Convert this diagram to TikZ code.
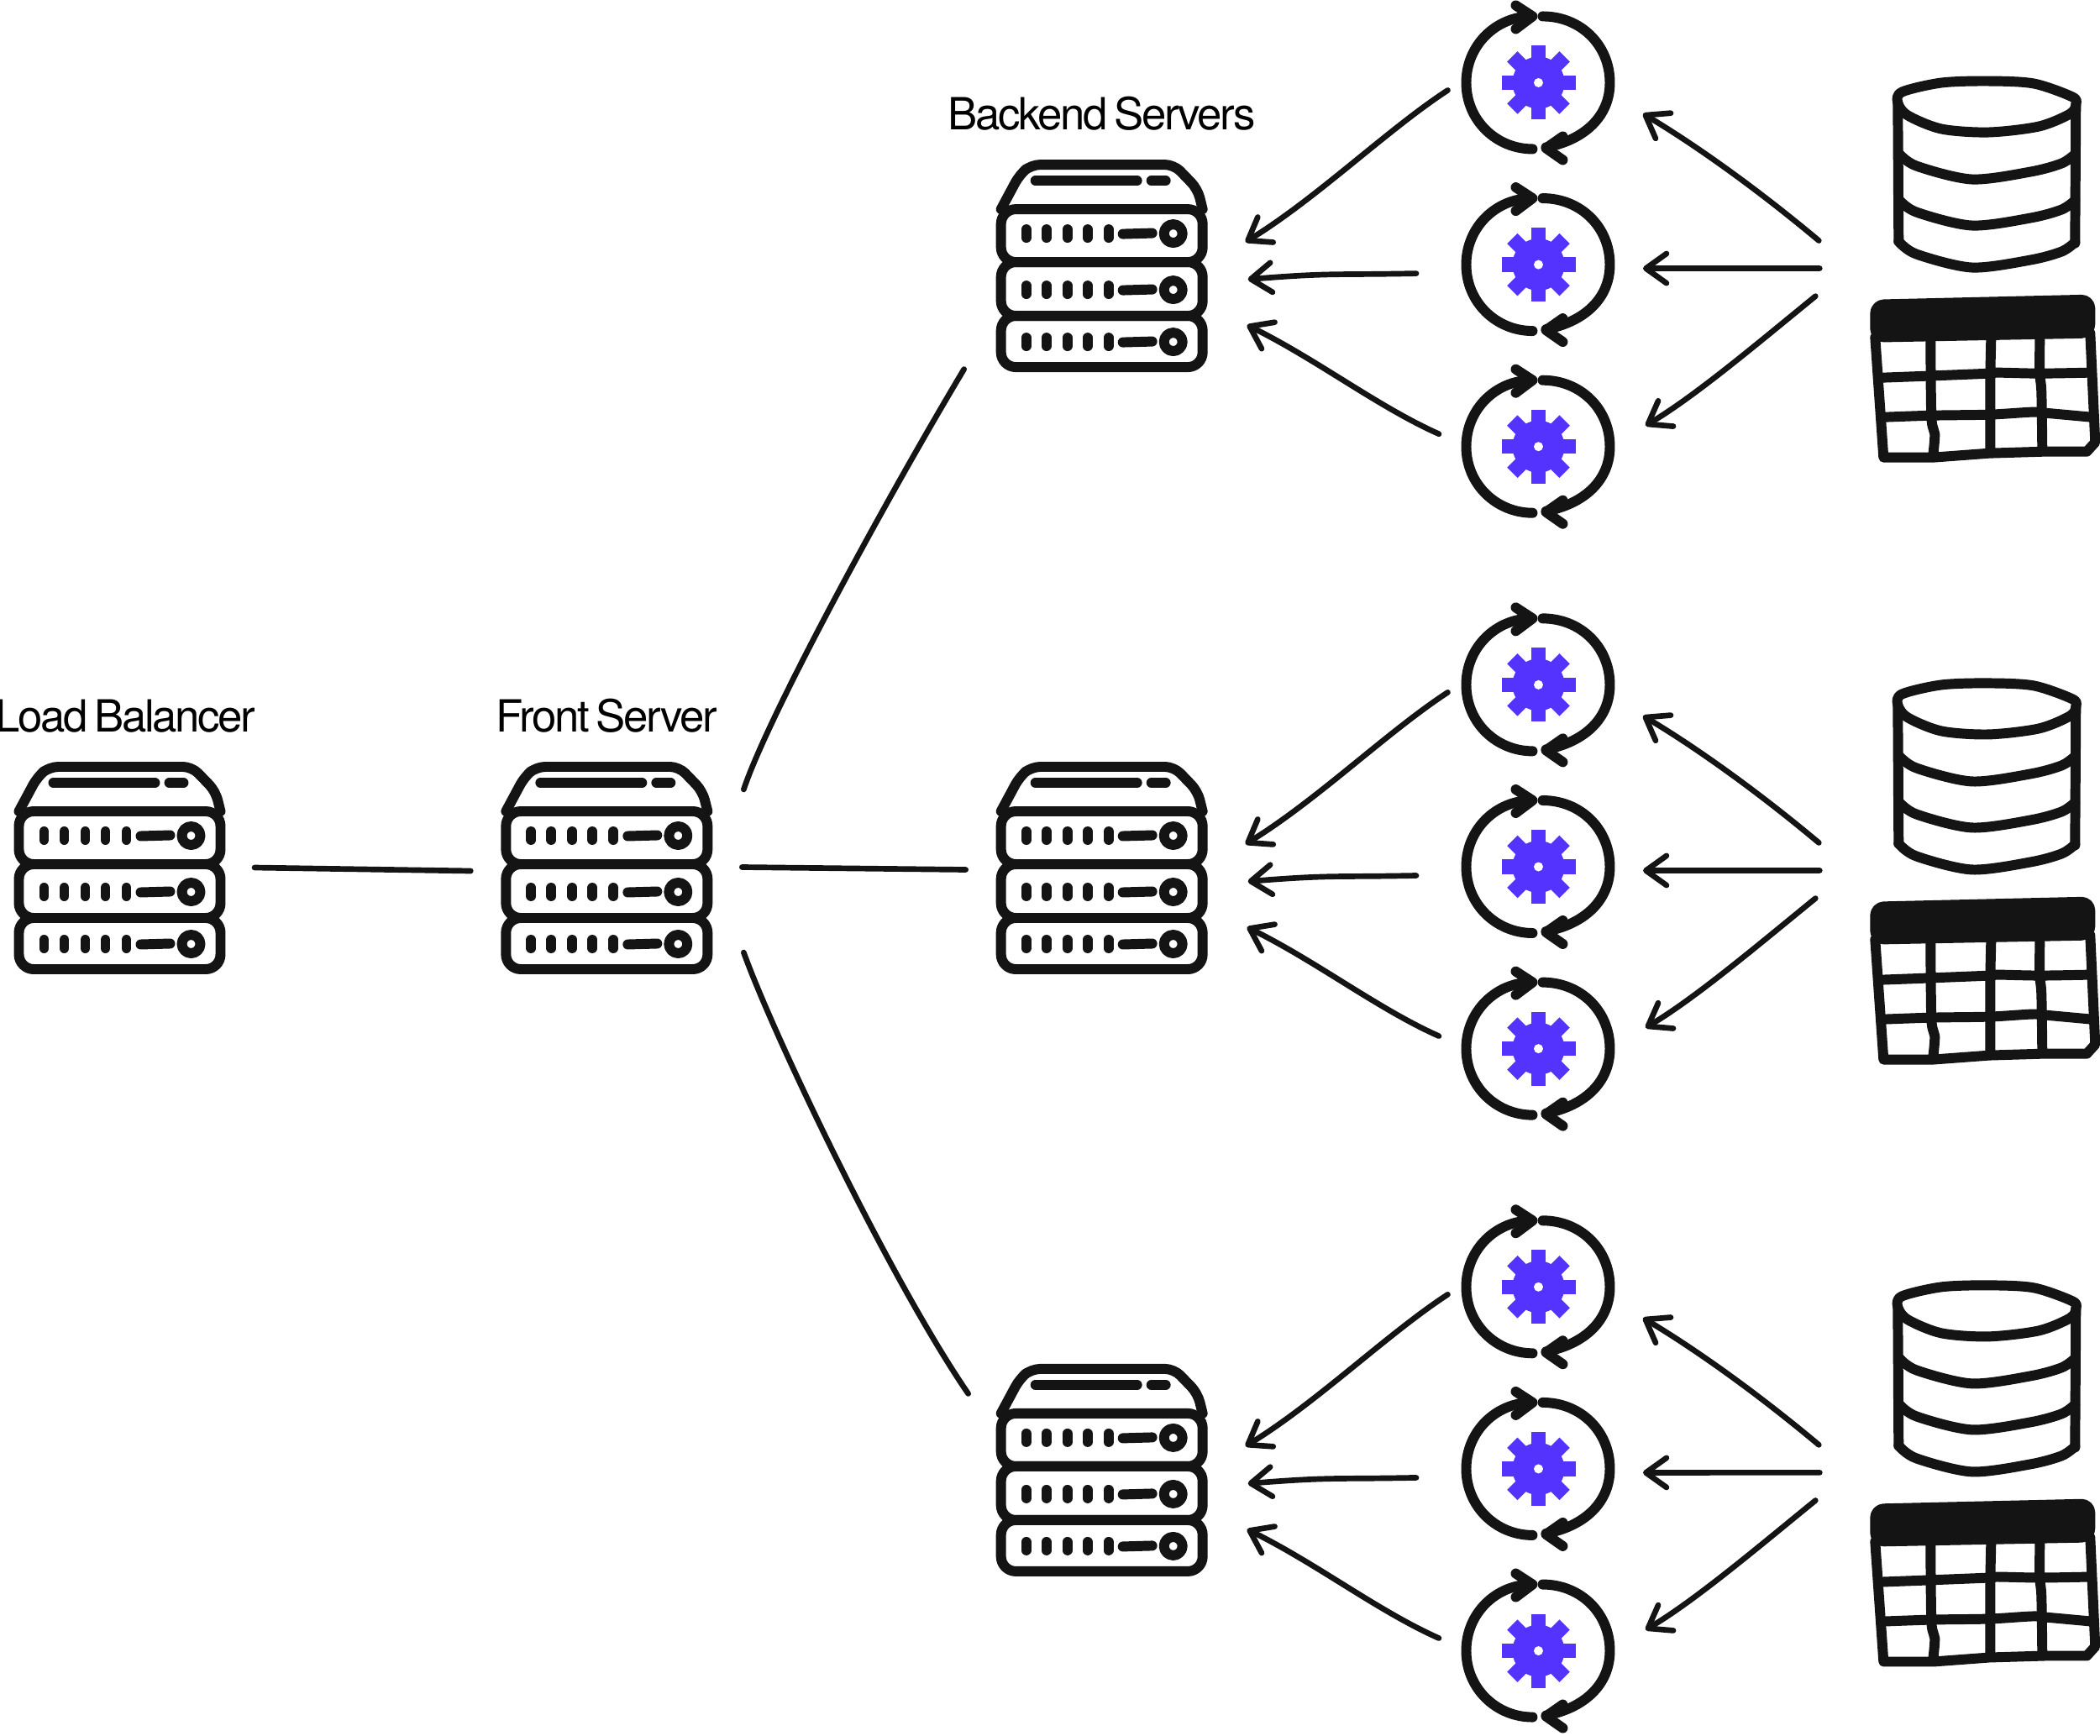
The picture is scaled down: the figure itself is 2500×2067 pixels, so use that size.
\documentclass[tikz,border=0pt]{standalone}
\usepackage{fontspec}
\setmainfont[LetterSpace=-4.5, WordSpace=0.6]{TeX Gyre Heros}
\usepackage{xcolor}
\usepackage{tikz}
\usetikzlibrary{positioning, calc, arrows.meta}
\definecolor{inkblack}{HTML}{141414}
\definecolor{gearblue}{HTML}{5433FF}

\begin{document}
\begin{tikzpicture}[x=0.01cm, y=-0.01cm,
        % Style definitions
        icon/.style={
            draw=inkblack,
            line width=3.4pt,
            line cap=round,
            line join=round
        },
        flow/.style={
            draw=inkblack,
            line width=1.9pt,
            line cap=round
        },
        arrow/.style={
            flow,
            -{Straight Barb[round, length=7pt, width=10pt]}
        },
        srvbox/.style={
            minimum width=2.52cm,
            minimum height=2.53cm,
            inner sep=0pt,
            outer sep=0pt
        },
        gearbox/.style={
            minimum width=1.92cm,
            minimum height=1.92cm,
            inner sep=0pt,
            outer sep=0pt
        },
        title/.style={
            inner sep=0pt,
            text depth=0pt,
            text=black,
            font=\fontsize{15}{15}\selectfont
        },
        server/.pic={
            \draw [icon, rounded corners=3pt] (-120,-67) -- (-98,-108) -- (-84,-120)
                -- (86,-120) -- (114,-91) -- (120,-67);
            \draw [icon] (-79,-101) -- (42,-101);
            \draw [icon] (59,-101) -- (76,-101);
            \foreach \ya/\yb in {-67/-4, -4/60, 60/121}
                \draw [icon, rounded corners=5pt] (-120,\ya) rectangle (120,\yb);
            \foreach \y in {-38, 29, 91} {
                \foreach \x in {-90, -66, -41, -17, 8}
                    \draw [icon] (\x,\y-5) -- (\x,\y+5);
                \draw [icon] (25,\y+0.5) -- (60,\y-0.5);
                \draw [icon] (85,\y) circle [radius=11];
            }
        },
        cogwheel/.pic={
            % Ring of two arrows
            \draw [icon] (-7,79) .. controls (-50,79) and (-86,45) .. (-86,0)
                .. controls (-86,-45) and (-50,-79) .. (-8,-79);
            \draw [icon] (-27,-92) -- (-7,-79) -- (-27,-64);
            \draw [icon] (5,-79) .. controls (50,-79) and (85,-45) .. (85,0)
                .. controls (85,40) and (55,68) .. (9,77);
            \draw [icon] (29,64) -- (9,78) -- (29,92);
            % Gear
            \foreach \a in {0, 45, ..., 315}
                \fill [gearblue, rotate=\a] (-8.7,-44) rectangle (8.7,0);
            \fill [gearblue] (0,0) circle [radius=31];
            \fill [white] (0,0) circle [radius=5.5];
        },
        database/.pic={
            \draw [icon] plot [smooth cycle] coordinates {(-106,-85) (-101,-98) (-54,-109) (2,-111)
                (56,-108) (102,-92) (106,-83) (99,-72) (62,-57) (2,-50) (-54,-54) (-94,-70)};
            \draw [icon] (-106,-85) -- (-105,80);
            \draw [icon] (106,-83) -- (105,82);
            \foreach \b in {0, 55, 105}
                \draw [icon, shift={(0,\b)}] plot [smooth] coordinates {(-105,-25) (-84,-10) (-18,6)
                    (52,-3) (89,-13) (105,-24)};
        },
        datatable/.pic={
            % Header bar
            \draw [icon, fill=inkblack, rounded corners=3pt] (-131,-88) -- (125,-94) -- (125,-54) -- (-131,-49) -- cycle;
            % Outer frame
            \draw [icon] (-131,-49) -- (-121,94) -- (-62,94) -- (5,89) -- (71,87) -- (121,87)
                -- (131,76) -- (125,-54);
            % Grid
            \draw [icon] plot [smooth] coordinates {(-122,-1) (-69,-3) (5,-6) (15,-7) (65,-6) (125,-7)};
            \draw [icon] plot [smooth] coordinates {(-119,46) (-62,44) (5,43) (55,40) (71,41) (126,46)};
            \draw [icon] plot [smooth] coordinates {(-65,-46) (-64,46) (-60,66) (-62,91)};
            \draw [icon] (7,-46) -- (6,-4) -- (6,86);
            \draw [icon] plot [smooth] coordinates {(65,-46) (65,-6) (67,16) (68,84)};
        }
    ]

        \path [use as bounding box] (0,0) rectangle (2500,2067);

        % ==========================================
        % Nodes / Blocks Placement
        % ==========================================
        % Load balancer and front server in the middle row
        \node (lb) at (142.5,1033) [srvbox] {};
        \node (front) [srvbox, right=3.275cm of lb] {};

        % Backend servers, one per row
        \node (srv1) [srvbox, right=3.37cm of front] {};
        \node (srv0) [srvbox, above=4.635cm of srv1] {};
        \node (srv2) [srvbox, below=4.635cm of srv1] {};

        % Titles above the first servers
        \node (lb_label) [title, above=0.345cm of lb, xshift=0.07cm] {Load Balancer};
        \node (front_label) [title, above=0.345cm of front] {Front Server};
        \node (srv_label) [title, above=0.345cm of srv0] {Backend Servers};

        \pic at (lb) {server};
        \pic at (front) {server};

        % ==========================================
        % Connections / Lines
        % ==========================================
        \draw [flow] ([shift={(160.5,0)}]lb.center) -- ([shift={(-162,4)}]front.center);
        \draw [flow] ([shift={(163,-93)}]front.center) .. controls +(30,-90) and +(-87,145) .. ([shift={(-164,123.5)}]srv0.center);
        \draw [flow] ([shift={(161,-0.5)}]front.center) -- ([shift={(-162,2.5)}]srv1.center);
        \draw [flow] ([shift={(163,101)}]front.center) .. controls +(36,100) and +(-92,-134) .. ([shift={(-159,-90.5)}]srv2.center);

        % ==========================================
        % One row: server, three workers, data stores
        % ==========================================
        \foreach \r in {0, 1, 2} {
            \node (gear\r b) [gearbox, right=2.975cm of srv\r, yshift=0.01cm] {};
            \node (gear\r a) [gearbox, above=0.245cm of gear\r b] {};
            \node (gear\r c) [gearbox, below=0.245cm of gear\r b] {};
            \node (db\r) [gearbox, right=3.415cm of gear\r b, yshift=1.075cm] {};
            \node (tbl\r) [gearbox, below=0.51cm of db\r, xshift=-0.02cm] {};

            \pic at (srv\r) {server};
            \pic at (gear\r a) {cogwheel};
            \pic at (gear\r b) {cogwheel};
            \pic at (gear\r c) {cogwheel};
            \pic at (db\r) {database};
            \pic at (tbl\r) {datatable};

            % Workers to server
            \draw [arrow] ([shift={(-108,9)}]gear\r a.center) .. controls +(-72,47) and +(85,-52) .. ([shift={(171,-28)}]srv\r.center);
            \draw [arrow] ([shift={(-145.5,10.5)}]gear\r b.center) .. controls +(-100,2) and +(100,-8) .. ([shift={(174,16.5)}]srv\r.center);
            \draw [arrow] ([shift={(-118.5,-15)}]gear\r c.center) .. controls +(-72,-32) and +(83,41) .. ([shift={(173,71)}]srv\r.center);

            % Data stores to workers
            \draw [arrow] ([shift={(-200,79)}]db\r.center) .. controls +(-74,-62) and +(62,37) .. ([shift={(124.5,37)}]gear\r a.center);
            \draw [arrow] ([shift={(-199,112)}]db\r.center) -- ([shift={(124.5,4.5)}]gear\r b.center);
            \draw [arrow] ([shift={(-202,-98)}]tbl\r.center) .. controls +(-70,57) and +(59,-35) .. ([shift={(127.5,-25)}]gear\r c.center);
        }

    \end{tikzpicture}
\end{document}
